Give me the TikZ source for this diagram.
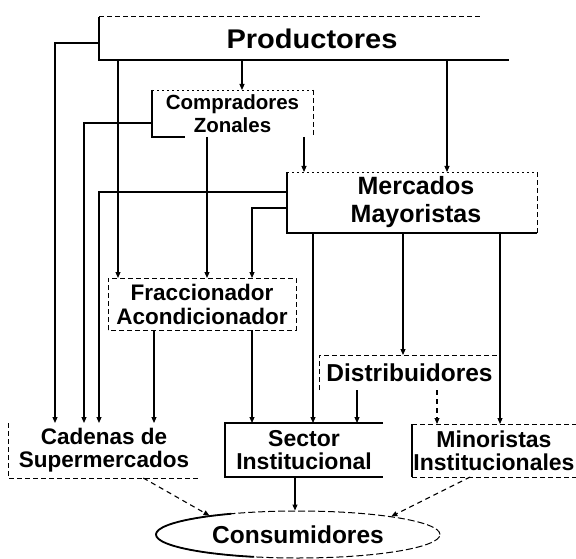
\documentclass[tikz,border=0pt]{standalone}
\usepackage{fontspec}
\setmainfont{Liberation Sans}
\newfontfamily\widefont[FakeStretch=1.075]{Liberation Sans}
\usetikzlibrary{arrows.meta,shapes.geometric}
\begin{document}
\begin{tikzpicture}[x=1pt,y=-1pt,
  lbl/.style={align=center, inner sep=0pt, outer sep=0pt},
  arr/.style={line width=1.1pt, -{Triangle[length=6pt,width=5pt]}},
  thk/.style={line width=1.7pt},
  med/.style={line width=1.2pt},
  dsh/.style={line width=1pt, dash pattern=on 5pt off 3pt},
  dot/.style={line width=0.9pt, dash pattern=on 2pt off 3pt},
  dasharr/.style={arr, dash pattern=on 5pt off 4pt}
]
\fill[white] (0,0) rectangle (576,559);
\useasboundingbox (0,0) rectangle (576,559);

% nodes
\node[lbl, minimum width=410, minimum height=43, font=\widefont\fontsize{27}{30}\bfseries\selectfont] (P) at (304,38.5) {\hspace*{16pt}Productores};
\node[lbl, minimum width=161, minimum height=47, font=\fontsize{20.5}{23}\bfseries\selectfont] (C) at (232.5,113.5) {Compradores\\Zonales};
\node[lbl, minimum width=250, minimum height=61, font=\fontsize{25}{28}\bfseries\selectfont] (M) at (412,202.5) {\hspace*{8pt}Mercados\\\hspace*{8pt}Mayoristas};
\node[lbl, minimum width=188, minimum height=52, font=\fontsize{22.5}{24}\bfseries\selectfont] (F) at (202,304) {Fraccionador\\Acondicionador};
\node[lbl, minimum width=181, minimum height=35, font=\fontsize{24.5}{27}\bfseries\selectfont] (D) at (409.5,372.5) {Distribuidores};
\node[lbl, minimum width=192, minimum height=55, font=\fontsize{22.5}{23}\bfseries\selectfont] (Cad) at (104,450.5) {Cadenas de\\Supermercados};
\node[lbl, minimum width=158, minimum height=54, font=\fontsize{23}{23}\bfseries\selectfont] (Sec) at (304,450) {Sector\\Institucional};
\node[lbl, minimum width=164, minimum height=53, font=\fontsize{23}{23}\bfseries\selectfont] (Min) at (494,450.5) {Minoristas\\Institucionales};
\node[ellipse, inner sep=0pt, minimum width=284, minimum height=47, font=\fontsize{24.5}{27}\bfseries\selectfont, draw, line width=1pt, dash pattern=on 7pt off 3pt] (E) at (298,534.5) {Consumidores};
\draw[line width=1.8pt] (E.center) ++(-118:142 and 23.5) arc (-118:-252:142 and 23.5);

% box borders
\draw[thk] (P.north west) -- (P.south west) -- (P.south east);
\draw[dsh] (P.north west) -- ++(381,0);
\draw[thk] (C.north west) -- (C.south west) -- ++(33,0);
\draw[dot] (C.north west) -- (C.north east);
\draw[dsh] (C.north east) -- (C.south east);
\draw[thk] (M.north west) -- (M.south west) -- (M.south east);
\draw[dsh] (M.south east) -- (M.north east);
\draw[dot] (M.north west) -- (M.north east);
\draw[dsh] (F.south west) rectangle (F.north east);
\draw[dsh] (D.south west) -- (D.north west) -- (D.north east);
\draw[dsh] (Cad.north west) -- (Cad.south west) -- (Cad.south east);
\draw[med] (Sec.north east) -- (Sec.north west) -- (Sec.south west) -- (Sec.south east);
\draw[dsh] (Min.north west) -- (Min.north east);
\draw[thk] (Min.north west) -- (Min.south west);
\draw[dsh] (Min.south west) -- (Min.south east);

% column / row coordinates
\foreach \c in {55,84,99,118,154,207,242,252,295,304,313,357,403,437,447,500}
  \coordinate (x\c) at (\c,0);
\foreach \r in {43,123,192,208}
  \coordinate (y\r) at (0,\r);

% connectors
\draw[arr] (P.west |- y43) -| (x55 |- Cad.north);
\draw[arr] (P.south -| x118) -- (F.north -| x118);
\draw[arr] (P.south -| x242) -- (C.north -| x242);
\draw[arr] (P.south -| x447) -- (M.north -| x447);
\draw[arr] (C.west |- y123) -| (x84 |- Cad.north);
\draw[arr] (C.south -| x207) -- (F.north -| x207);
\draw[arr] (C.south -| x304) -- (M.north -| x304);
\draw[arr] (M.west |- y192) -| (x99 |- Cad.north);
\draw[arr] (M.west |- y208) -| (x252 |- F.north);
\draw[arr] (M.south -| x313) -- (Sec.north -| x313);
\draw[arr] (M.south -| x403) -- (D.north -| x403);
\draw[arr] (M.south -| x500) -- (Min.north -| x500);
\draw[arr] (F.south -| x154) -- (Cad.north -| x154);
\draw[arr] (F.south -| x252) -- (Sec.north -| x252);
\draw[arr] (D.south -| x357) -- (Sec.north -| x357);
\draw[dasharr] (D.south -| x437) -- (Min.north -| x437);
\draw[arr] (Sec.south -| x295) -- (E.north -| x295);
\draw[dasharr] (Cad.-35) -- (E.168);
\draw[dasharr] (Min.-132) -- (E.11);
\end{tikzpicture}
\end{document}
